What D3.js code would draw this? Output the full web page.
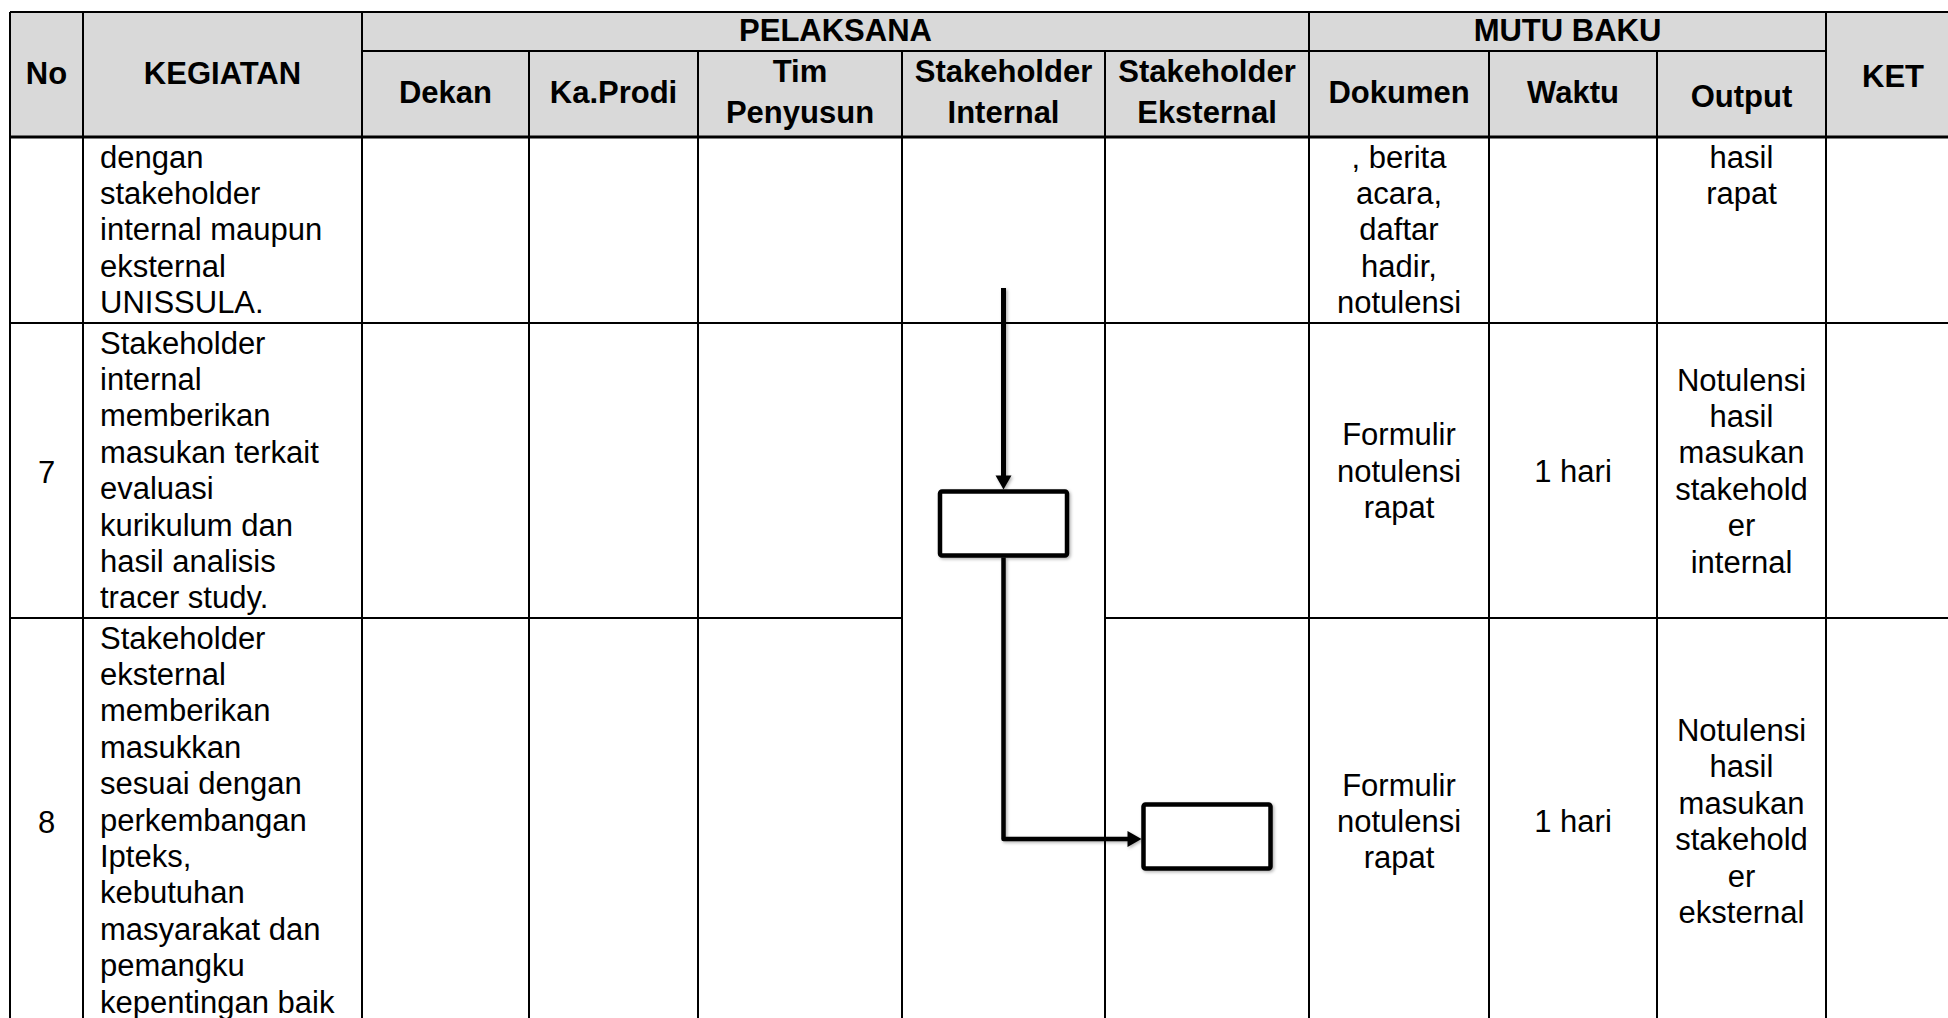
<!DOCTYPE html>
<html>
<head>
<meta charset="utf-8">
<script src="https://cdn.jsdelivr.net/npm/d3@7/dist/d3.min.js"></script>
<style>
  html, body { margin: 0; padding: 0; background: #ffffff; }
  svg { display: block; }
  text { font-family: "Liberation Sans", Arial, sans-serif; fill: #000; }
</style>
</head>
<body>
<svg id="chart" width="1948" height="1018"></svg>
<script>
// ---------------- DATA ----------------
const columns = ["No", "KEGIATAN", "Dekan", "Ka.Prodi", "Tim Penyusun",
  "Stakeholder Internal", "Stakeholder Eksternal", "Dokumen", "Waktu", "Output", "KET"];
const headerLabels = [["No"], ["KEGIATAN"], ["Dekan"], ["Ka.Prodi"], ["Tim", "Penyusun"],
  ["Stakeholder", "Internal"], ["Stakeholder", "Eksternal"], ["Dokumen"], ["Waktu"], ["Output"], ["KET"]];
const groupHeaders = [
  { label: "PELAKSANA", from: "Dekan", to: "Stakeholder Eksternal" },
  { label: "MUTU BAKU", from: "Dokumen", to: "Output" }
];
const rowNumbers = ["", "7", "8"];
const kegiatan = [
  ["dengan", "stakeholder", "internal maupun", "eksternal", "UNISSULA."],
  ["Stakeholder", "internal", "memberikan", "masukan terkait", "evaluasi", "kurikulum dan", "hasil analisis", "tracer study."],
  ["Stakeholder", "eksternal", "memberikan", "masukkan", "sesuai dengan", "perkembangan", "Ipteks,", "kebutuhan", "masyarakat dan", "pemangku", "kepentingan baik"]
];
const dokumen = [
  [", berita", "acara,", "daftar", "hadir,", "notulensi"],
  ["Formulir", "notulensi", "rapat"],
  ["Formulir", "notulensi", "rapat"]
];
const waktu = [[], ["1 hari"], ["1 hari"]];
const output = [
  ["hasil", "rapat"],
  ["Notulensi", "hasil", "masukan", "stakehold", "er", "internal"],
  ["Notulensi", "hasil", "masukan", "stakehold", "er", "eksternal"]
];
const rowContinued = [true, false, false];
// flow: start arrow into step 7 (Stakeholder Internal), then step 7 -> step 8 (Stakeholder Eksternal)
const flowSteps = [
  { row: 1, col: "Stakeholder Internal" },
  { row: 2, col: "Stakeholder Eksternal" }
];

// ---------------- LAYOUT ----------------
const colEdges = [10, 83, 362, 529, 698, 902, 1105, 1309, 1489, 1657, 1826, 1960];
const yTop = 12, ySub = 51, yHead = 137;
const rowEdges = [137, 323, 618, 1024];
const LH = 36.4, FS = 31, CAP = 11;

const svg = d3.select("#chart");

const xLeft = d3.scaleOrdinal().domain(columns).range(colEdges.slice(0, -1));
const xRight = d3.scaleOrdinal().domain(columns).range(colEdges.slice(1));
const xMid = c => (xLeft(c) + xRight(c)) / 2;
const rowTop = i => rowEdges[i];
const rowBot = i => rowEdges[i + 1];
const rowMid = i => (rowTop(i) + rowBot(i)) / 2;

// header background
svg.append("rect")
  .attr("x", colEdges[0]).attr("y", yTop)
  .attr("width", colEdges[colEdges.length - 1] - colEdges[0])
  .attr("height", yHead - yTop)
  .attr("fill", "#d9d9d9");

// grid lines
const lines = svg.append("g").attr("stroke", "#000").attr("stroke-width", 2).attr("fill", "none");
const yBottom = rowEdges[rowEdges.length - 1];
const x0 = colEdges[0], x1 = colEdges[colEdges.length - 1];
lines.append("line").attr("x1", x0).attr("x2", x1).attr("y1", yTop).attr("y2", yTop);
lines.append("line").attr("x1", xLeft("Dekan")).attr("x2", xRight("Output")).attr("y1", ySub).attr("y2", ySub);
lines.append("line").attr("x1", x0).attr("x2", x1).attr("y1", yHead).attr("y2", yHead).attr("stroke-width", 3);

// row separators (row 7/8 separator is interrupted by the flow drawing in Stakeholder Internal)
rowEdges.slice(1, -1).forEach((y, k) => {
  const gapCols = (k === 1) ? ["Stakeholder Internal"] : [];
  let segStart = x0;
  gapCols.forEach(c => {
    lines.append("line").attr("x1", segStart).attr("x2", xLeft(c)).attr("y1", y).attr("y2", y);
    segStart = xRight(c);
  });
  lines.append("line").attr("x1", segStart).attr("x2", x1).attr("y1", y).attr("y2", y);
});

// vertical lines
const fullHeightEdges = [colEdges[0], xRight("No"), xRight("KEGIATAN"), xRight("Stakeholder Eksternal"), xRight("Output")];
colEdges.slice(0, -1).forEach(x => {
  const full = fullHeightEdges.includes(x);
  lines.append("line").attr("x1", x).attr("x2", x)
    .attr("y1", full ? yTop : ySub).attr("y2", yBottom);
});

// header texts
const head = svg.append("g").attr("font-weight", "bold").attr("font-size", FS).attr("text-anchor", "middle");
groupHeaders.forEach(g => {
  head.append("text").attr("x", (xLeft(g.from) + xRight(g.to)) / 2).attr("y", 41).text(g.label);
});
const spanning = { "No": 84, "KEGIATAN": 84, "KET": 87 };
columns.forEach((c, i) => {
  const labels = headerLabels[i];
  if (spanning[c] !== undefined) {
    head.append("text").attr("x", xMid(c)).attr("y", spanning[c]).text(labels[0]);
  } else {
    const adj = c === "Output" ? 4 : 0;
    const mid = 102.5 + adj;
    labels.forEach((t, j) => {
      head.append("text").attr("x", xMid(c))
        .attr("y", mid + (j - (labels.length - 1) / 2) * 41).text(t);
    });
  }
});

// body texts
const body = svg.append("g").attr("font-size", FS);
function centeredBlock(col, r, linesArr) {
  const n = linesArr.length;
  linesArr.forEach((t, j) => {
    const y = rowContinued[r]
      ? rowTop(r) + 30.5 + j * LH
      : rowMid(r) + CAP + (j - (n - 1) / 2) * LH;
    body.append("text").attr("x", xMid(col)).attr("y", y).attr("text-anchor", "middle").text(t);
  });
}
rowNumbers.forEach((no, r) => {
  if (no) body.append("text").attr("x", xMid("No")).attr("y", rowMid(r) + CAP + 1)
    .attr("text-anchor", "middle").text(no);
  kegiatan[r].forEach((t, j) => {
    body.append("text").attr("x", xLeft("KEGIATAN") + 17).attr("y", rowTop(r) + 30.5 + j * LH).text(t);
  });
  centeredBlock("Dokumen", r, dokumen[r]);
  centeredBlock("Waktu", r, waktu[r]);
  centeredBlock("Output", r, output[r]);
});

// ---------------- FLOW DRAWING ----------------
const defs = svg.append("defs");
const f = defs.append("filter").attr("id", "shadow").attr("x", "-20%").attr("y", "-20%").attr("width", "140%").attr("height", "140%");
f.append("feDropShadow").attr("dx", 1.5).attr("dy", 1.5).attr("stdDeviation", 1.5)
  .attr("flood-color", "#000").attr("flood-opacity", 0.3);

const flow = svg.append("g").attr("filter", "url(#shadow)");
const BW = 127, BH = 64;
const boxOffsetY = [53, 15.5];
const boxes = flowSteps.map((s, k) => ({
  cx: xMid(s.col), cy: rowMid(s.row) + boxOffsetY[k]
}));

function arrowHead(tipX, tipY, dir) {
  const L = 14, W = 8;
  let pts;
  if (dir === "down") pts = [[tipX, tipY], [tipX - W, tipY - L], [tipX + W, tipY - L]];
  else pts = [[tipX, tipY], [tipX - L, tipY - W], [tipX - L, tipY + W]];
  flow.append("path").attr("d", d3.line()(pts) + "Z").attr("fill", "#000");
}

// incoming arrow to step 7
const b1 = boxes[0], b2 = boxes[1];
const b1Top = b1.cy - BH / 2 - 2, b1Bot = b1.cy + BH / 2 + 2;
flow.append("line").attr("x1", b1.cx).attr("x2", b1.cx).attr("y1", 288).attr("y2", b1Top - 12)
  .attr("stroke", "#000").attr("stroke-width", 5);
arrowHead(b1.cx, b1Top, "down");

// elbow connector step 7 -> step 8
const b2Left = b2.cx - BW / 2 - 2;
const elbowY = b2.cy + 2.5;
flow.append("path")
  .attr("d", d3.line()([[b1.cx, b1Bot], [b1.cx, elbowY], [b2Left - 12, elbowY]]))
  .attr("fill", "none").attr("stroke", "#000").attr("stroke-width", 4.5).attr("stroke-linejoin", "round");
arrowHead(b2Left, elbowY, "right");

flow.selectAll("rect.step").data(boxes).enter().append("rect").attr("class", "step")
  .attr("x", d => d.cx - BW / 2).attr("y", d => d.cy - BH / 2)
  .attr("width", BW).attr("height", BH).attr("rx", 2)
  .attr("fill", "#fff").attr("stroke", "#000").attr("stroke-width", 4.5);
</script>
</body>
</html>
